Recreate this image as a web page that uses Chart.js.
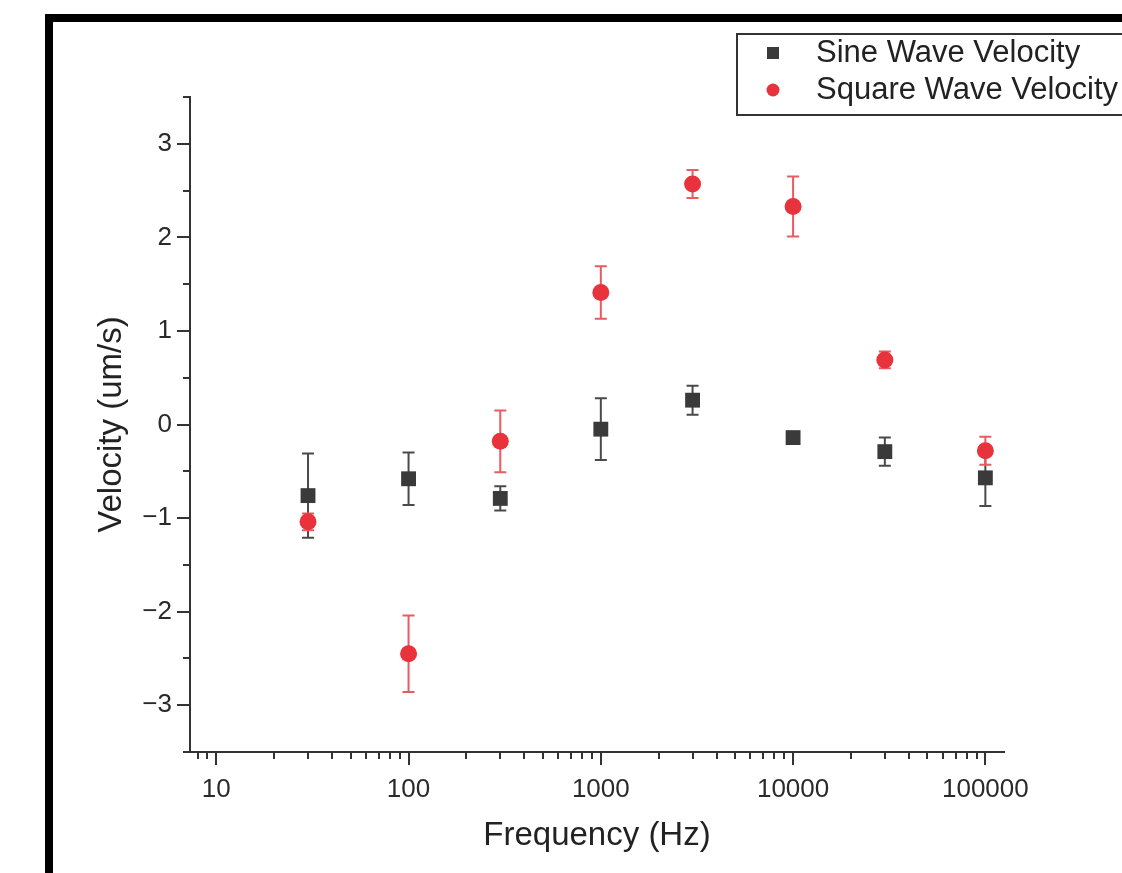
<!DOCTYPE html>
<html>
<head>
<meta charset="utf-8">
<script src="https://cdn.jsdelivr.net/npm/chart.js@4"></script>
<style>
  html, body { margin: 0; padding: 0; background: #fff; }
  #wrap { width: 1122px; height: 873px; }
</style>
</head>
<body>
<div id="wrap"><canvas id="velocityChart"></canvas></div>
<script>
'use strict';

// frequency sweep (Hz) and measured velocities (um/s) with error bars
const frequencies    = [30, 100, 300, 1000, 3000, 10000, 30000, 100000];
const sineVelocity   = [-0.76, -0.58, -0.79, -0.05, 0.26, -0.14, -0.29, -0.57];
const sineError      = [0.45, 0.28, 0.13, 0.33, 0.155, 0.05, 0.15, 0.30];
const squareVelocity = [-1.04, -2.45, -0.18, 1.41, 2.57, 2.33, 0.69, -0.28];
const squareError    = [0.09, 0.41, 0.33, 0.28, 0.15, 0.32, 0.09, 0.15];

const xTickValues = [10, 100, 1000, 10000, 100000];
const yTickValues = [-3, -2, -1, 0, 1, 2, 3];
const yMinorValues = [-3.5, -2.5, -1.5, -0.5, 0.5, 1.5, 2.5, 3.5];

const FONT = 'Liberation Sans, Arial, sans-serif';
const AXIS = '#333';

const toPoints = ys => frequencies.map((f, i) => ({ x: f, y: ys[i] }));

// black frame left/top from the original screenshot
const framePlugin = {
  id: 'frame',
  beforeDraw(chart) {
    const { ctx, width, height } = chart;
    ctx.save();
    ctx.fillStyle = '#fff';
    ctx.fillRect(0, 0, width, height);
    ctx.fillStyle = '#000';
    ctx.fillRect(45, 14, 8, height - 14);
    ctx.fillRect(45, 14, width - 45, 8);
    ctx.restore();
  }
};

const errorBarPlugin = {
  id: 'errorBars',
  beforeDatasetsDraw(chart) {
    const { ctx, scales: { x, y } } = chart;
    chart.data.datasets.forEach(ds => {
      ctx.save();
      ctx.strokeStyle = ds.errorColor;
      ctx.lineWidth = 2;
      ds.data.forEach((p, i) => {
        const err = ds.errors[i];
        const px = x.getPixelForValue(p.x);
        const top = y.getPixelForValue(p.y + err);
        const bot = y.getPixelForValue(p.y - err);
        ctx.beginPath();
        ctx.moveTo(px, top); ctx.lineTo(px, bot);
        ctx.moveTo(px - 6, top); ctx.lineTo(px + 6, top);
        ctx.moveTo(px - 6, bot); ctx.lineTo(px + 6, bot);
        ctx.stroke();
      });
      ctx.restore();
    });
  }
};

const tickMarkPlugin = {
  id: 'tickMarks',
  afterDraw(chart) {
    const { ctx, scales: { x, y }, chartArea } = chart;
    ctx.save();
    ctx.strokeStyle = AXIS;
    ctx.lineWidth = 2;
    const yTick = (v, len) => {
      const py = Math.round(y.getPixelForValue(v));
      ctx.beginPath(); ctx.moveTo(chartArea.left - len, py); ctx.lineTo(chartArea.left, py); ctx.stroke();
    };
    const xTick = (v, len) => {
      const px = Math.round(x.getPixelForValue(v));
      ctx.beginPath(); ctx.moveTo(px, chartArea.bottom); ctx.lineTo(px, chartArea.bottom + len); ctx.stroke();
    };
    yTickValues.forEach(v => yTick(v, 13));
    yMinorValues.forEach(v => yTick(v, 7));
    xTickValues.forEach(v => xTick(v, 13));
    for (let d = 1; d <= 100000; d *= 10) {
      for (let m = 2; m <= 9; m++) {
        const v = d * m;
        if (v > x.min && v < x.max) xTick(v, 7);
      }
    }
    ctx.restore();
  }
};

const legendPlugin = {
  id: 'boxLegend',
  afterDraw(chart) {
    const { ctx } = chart;
    ctx.save();
    ctx.strokeStyle = '#333';
    ctx.lineWidth = 2;
    ctx.strokeRect(737, 34, 420, 81);
    ctx.font = '31px ' + FONT;
    ctx.textBaseline = 'middle';
    chart.data.datasets.forEach((ds, i) => {
      const cy = 53 + i * 37;
      ctx.fillStyle = ds.backgroundColor;
      if (ds.pointStyle === 'rect') {
        ctx.fillRect(767, cy - 6, 12, 12);
      } else {
        ctx.beginPath(); ctx.arc(773, cy, 6.5, 0, Math.PI * 2); ctx.fill();
      }
      ctx.fillStyle = '#222';
      ctx.fillText(ds.label, 816, cy);
    });
    ctx.restore();
  }
};

new Chart(document.getElementById('velocityChart'), {
  type: 'scatter',
  data: {
    datasets: [
      {
        label: 'Sine Wave Velocity',
        data: toPoints(sineVelocity),
        errors: sineError,
        errorColor: '#4a4a4a',
        pointStyle: 'rect',
        pointRadius: 10.5,
        backgroundColor: '#3a3a3a',
        borderColor: '#3a3a3a',
        borderWidth: 0
      },
      {
        label: 'Square Wave Velocity',
        data: toPoints(squareVelocity),
        errors: squareError,
        errorColor: '#ec5a60',
        pointStyle: 'circle',
        pointRadius: 8.5,
        backgroundColor: '#e8323c',
        borderColor: '#e8323c',
        borderWidth: 0
      }
    ]
  },
  options: {
    responsive: true,
    maintainAspectRatio: false,
    animation: false,
    layout: { padding: { top: 97, right: 118, left: 0, bottom: 0 } },
    plugins: { legend: { display: false }, tooltip: { enabled: false } },
    scales: {
      x: {
        type: 'logarithmic',
        min: 7.3,
        max: 125000,
        afterBuildTicks: s => { s.ticks = xTickValues.map(v => ({ value: v })); },
        afterFit: s => { s.height = 121; },
        grid: { display: false, drawTicks: false },
        border: { display: true, color: AXIS, width: 2 },
        ticks: {
          autoSkip: false, maxRotation: 0, padding: 22,
          color: '#2a2a2a', font: { family: FONT, size: 26 },
          callback: v => String(v)
        },
        title: {
          display: true, text: 'Frequency (Hz)', color: '#222',
          font: { family: FONT, size: 33 }, padding: { top: 0, bottom: 17 }
        }
      },
      y: {
        min: -3.5,
        max: 3.5,
        afterBuildTicks: s => { s.ticks = yTickValues.map(v => ({ value: v })); },
        afterFit: s => { s.width = 190; },
        grid: { display: false, drawTicks: false },
        border: { display: true, color: AXIS, width: 2 },
        ticks: {
          padding: 18, color: '#2a2a2a', font: { family: FONT, size: 26 },
          callback: v => (v < 0 ? '\u2212' + Math.abs(v) : String(v))
        },
        title: {
          display: true, text: 'Velocity (um/s)', color: '#222',
          font: { family: FONT, size: 33 }, padding: { top: 92, bottom: 0 }
        }
      }
    }
  },
  plugins: [framePlugin, errorBarPlugin, tickMarkPlugin, legendPlugin]
});
</script>
</body>
</html>
